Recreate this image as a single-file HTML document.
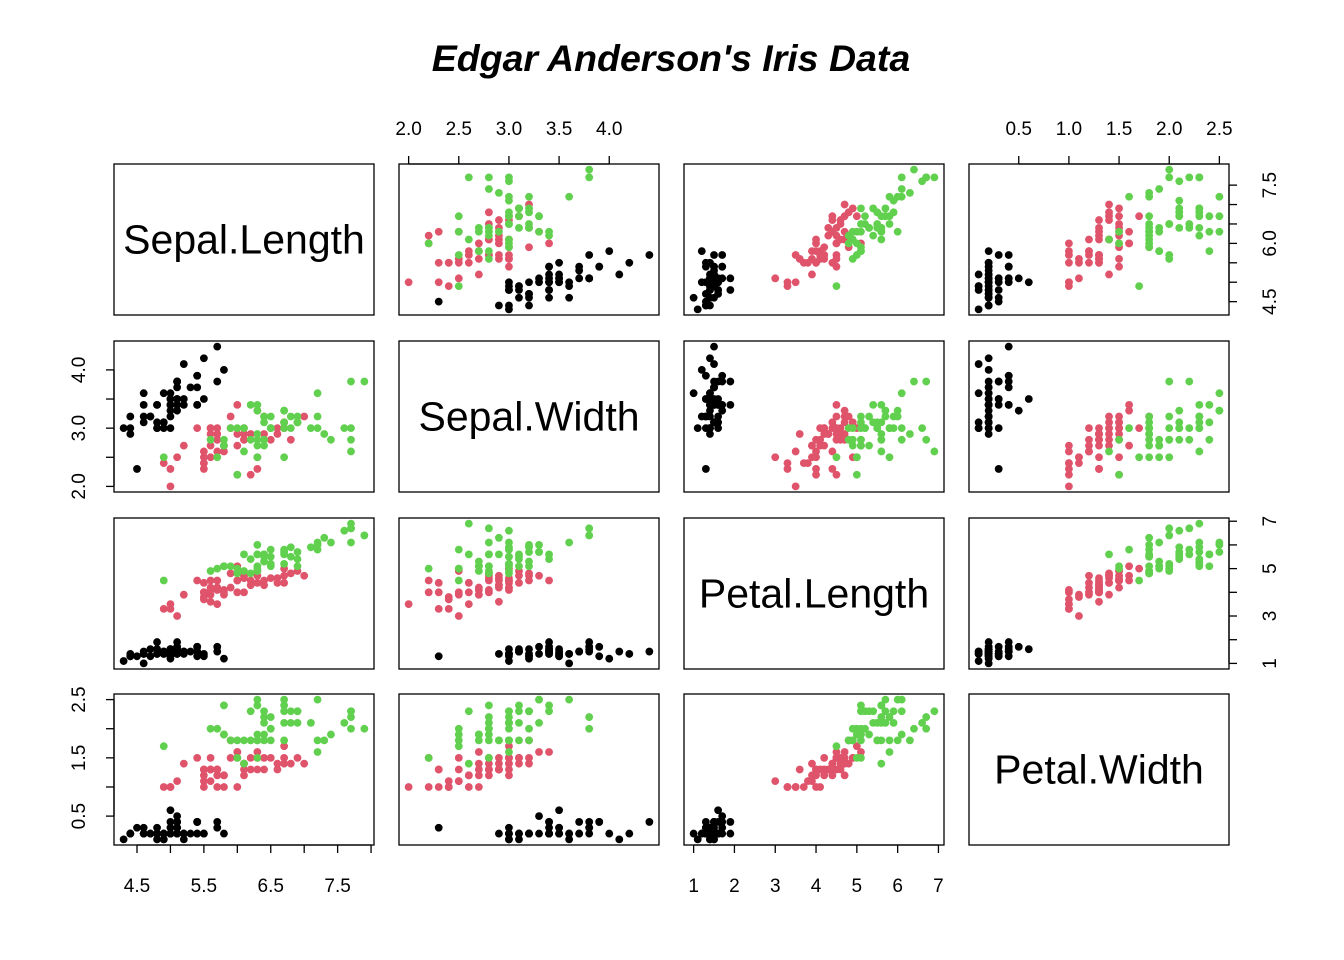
<!DOCTYPE html>
<html><head><meta charset="utf-8"><style>
html,body{margin:0;padding:0;background:#fff;}
svg{display:block;font-family:"Liberation Sans",Arial,sans-serif;}
</style></head><body>
<svg id="chart" width="1344" height="960" viewBox="0 0 1344 960">
<text x="671" y="71" text-anchor="middle" font-size="37.5" font-weight="bold" font-style="italic">Edgar Anderson's Iris Data</text>
</svg>
<script>
const varNames = ["Sepal.Length","Sepal.Width","Petal.Length","Petal.Width"];
const sepalLength = [5.1,4.9,4.7,4.6,5.0,5.4,4.6,5.0,4.4,4.9,5.4,4.8,4.8,4.3,5.8,5.7,5.4,5.1,5.7,5.1,5.4,5.1,4.6,5.1,4.8,5.0,5.0,5.2,5.2,4.7,4.8,5.4,5.2,5.5,4.9,5.0,5.5,4.9,4.4,5.1,5.0,4.5,4.4,5.0,5.1,4.8,5.1,4.6,5.3,5.0,
7.0,6.4,6.9,5.5,6.5,5.7,6.3,4.9,6.6,5.2,5.0,5.9,6.0,6.1,5.6,6.7,5.6,5.8,6.2,5.6,5.9,6.1,6.3,6.1,6.4,6.6,6.8,6.7,6.0,5.7,5.5,5.5,5.8,6.0,5.4,6.0,6.7,6.3,5.6,5.5,5.5,6.1,5.8,5.0,5.6,5.7,5.7,6.2,5.1,5.7,
6.3,5.8,7.1,6.3,6.5,7.6,4.9,7.3,6.7,7.2,6.5,6.4,6.8,5.7,5.8,6.4,6.5,7.7,7.7,6.0,6.9,5.6,7.7,6.3,6.7,7.2,6.2,6.1,6.4,7.2,7.4,7.9,6.4,6.3,6.1,7.7,6.3,6.4,6.0,6.9,6.7,6.9,5.8,6.8,6.7,6.7,6.3,6.5,6.2,5.9];
const sepalWidth = [3.5,3.0,3.2,3.1,3.6,3.9,3.4,3.4,2.9,3.1,3.7,3.4,3.0,3.0,4.0,4.4,3.9,3.5,3.8,3.8,3.4,3.7,3.6,3.3,3.4,3.0,3.4,3.5,3.4,3.2,3.1,3.4,4.1,4.2,3.1,3.2,3.5,3.6,3.0,3.4,3.5,2.3,3.2,3.5,3.8,3.0,3.8,3.2,3.7,3.3,
3.2,3.2,3.1,2.3,2.8,2.8,3.3,2.4,2.9,2.7,2.0,3.0,2.2,2.9,2.9,3.1,3.0,2.7,2.2,2.5,3.2,2.8,2.5,2.8,2.9,3.0,2.8,3.0,2.9,2.6,2.4,2.4,2.7,2.7,3.0,3.4,3.1,2.3,3.0,2.5,2.6,3.0,2.6,2.3,2.7,3.0,2.9,2.9,2.5,2.8,
3.3,2.7,3.0,2.9,3.0,3.0,2.5,2.9,2.5,3.6,3.2,2.7,3.0,2.5,2.8,3.2,3.0,3.8,2.6,2.2,3.2,2.8,2.8,2.7,3.3,3.2,2.8,3.0,2.8,3.0,2.8,3.8,2.8,2.8,2.6,3.0,3.4,3.1,3.0,3.1,3.1,3.1,2.7,3.2,3.3,3.0,2.5,3.0,3.4,3.0];
const petalLength = [1.4,1.4,1.3,1.5,1.4,1.7,1.4,1.5,1.4,1.5,1.5,1.6,1.4,1.1,1.2,1.5,1.3,1.4,1.7,1.5,1.7,1.5,1.0,1.7,1.9,1.6,1.6,1.5,1.4,1.6,1.6,1.5,1.5,1.4,1.5,1.2,1.3,1.4,1.3,1.5,1.3,1.3,1.3,1.6,1.9,1.4,1.6,1.4,1.5,1.4,
4.7,4.5,4.9,4.0,4.6,4.5,4.7,3.3,4.6,3.9,3.5,4.2,4.0,4.7,3.6,4.4,4.5,4.1,4.5,3.9,4.8,4.0,4.9,4.7,4.3,4.4,4.8,5.0,4.5,3.5,3.8,3.7,3.9,5.1,4.5,4.5,4.7,4.4,4.1,4.0,4.4,4.6,4.0,3.3,4.2,4.2,4.2,4.3,3.0,4.1,
6.0,5.1,5.9,5.6,5.8,6.6,4.5,6.3,5.8,6.1,5.1,5.3,5.5,5.0,5.1,5.3,5.5,6.7,6.9,5.0,5.7,4.9,6.7,4.9,5.7,6.0,4.8,4.9,5.6,5.8,6.1,6.4,5.6,5.1,5.6,6.1,5.6,5.5,4.8,5.4,5.6,5.1,5.1,5.9,5.7,5.2,5.0,5.2,5.4,5.1];
const petalWidth = [0.2,0.2,0.2,0.2,0.2,0.4,0.3,0.2,0.2,0.1,0.2,0.2,0.1,0.1,0.2,0.4,0.4,0.3,0.3,0.3,0.2,0.4,0.2,0.5,0.2,0.2,0.4,0.2,0.2,0.2,0.2,0.4,0.1,0.2,0.2,0.2,0.2,0.1,0.2,0.2,0.3,0.3,0.2,0.6,0.4,0.3,0.2,0.2,0.2,0.2,
1.4,1.5,1.5,1.3,1.5,1.3,1.6,1.0,1.3,1.4,1.0,1.5,1.0,1.4,1.3,1.4,1.5,1.0,1.5,1.1,1.8,1.3,1.5,1.2,1.3,1.4,1.4,1.7,1.5,1.0,1.1,1.0,1.2,1.6,1.5,1.6,1.5,1.3,1.3,1.3,1.2,1.4,1.2,1.0,1.3,1.2,1.3,1.3,1.1,1.3,
2.5,1.9,2.1,1.8,2.2,2.1,1.7,1.8,1.8,2.5,2.0,1.9,2.1,2.0,2.4,2.3,1.8,2.2,2.3,1.5,2.3,2.0,2.0,1.8,2.1,1.8,1.8,1.8,2.1,1.6,1.9,2.0,2.2,1.5,1.4,2.3,2.4,1.8,1.8,2.1,2.4,2.3,1.9,2.3,2.5,2.3,1.9,2.0,2.3,1.8];
const speciesColors = ["#000000","#DF536B","#61D04F"];
const speciesSize = 50;
const sepalLengthTicks = [4.5,5.0,5.5,6.0,6.5,7.0,7.5,8.0];
const sepalWidthTicks = [2.0,2.5,3.0,3.5,4.0];
const petalLengthTicks = [1,2,3,4,5,6,7];
const petalWidthTicks = [0.5,1.0,1.5,2.0,2.5];

const cols = [sepalLength,sepalWidth,petalLength,petalWidth];
const NS="http://www.w3.org/2000/svg";
const svg=document.getElementById('chart');
const colX=[114,399,684,969], rowY=[164,341,518,694], PW=260, PH=151;
function ext(a){const mn=Math.min(...a),mx=Math.max(...a),d=(mx-mn)*0.04;return [mn-d,mx+d];}
const ranges=cols.map(ext);
function sx(j,v){const r=ranges[j];return colX[j]+(v-r[0])/(r[1]-r[0])*PW;}
function sy(i,v){const r=ranges[i];return rowY[i]+PH-(v-r[0])/(r[1]-r[0])*PH;}
function mk(t,a){const e=document.createElementNS(NS,t);for(const k in a)e.setAttribute(k,a[k]);svg.appendChild(e);return e;}
for(let i=0;i<4;i++)for(let j=0;j<4;j++){
  const r=mk('rect',{x:colX[j],y:rowY[i],width:PW,height:PH,fill:'none',stroke:'#000','stroke-width':1.3});
  
  
  if(i===j){
    const t=mk('text',{x:colX[j]+PW/2,y:rowY[i]+PH/2+14,'text-anchor':'middle','font-size':41});
    t.textContent=varNames[i];
    
    
    continue;
  }
  for(let k=0;k<cols[0].length;k++){
    const c=mk('circle',{cx:sx(j,cols[j][k]),cy:sy(i,cols[i][k]),r:3.9,fill:speciesColors[Math.floor(k/speciesSize)]});
    
    
  }
}
function fmt(v,dec){return dec?v.toFixed(1):String(v);}
function axis(side,idx,ticks,labels,dec){
  const j=idx;
  ticks.forEach(v=>{
    let x1,y1,x2,y2,tx,ty,rot=0;
    if(side==='top'){x1=x2=sx(j,v);y1=rowY[0];y2=y1-8;tx=x1;ty=135;}
    else if(side==='bottom'){x1=x2=sx(j,v);y1=rowY[3]+PH;y2=y1+8;tx=x1;ty=892;}
    else if(side==='left'){y1=y2=sy(j,v);x1=colX[0];x2=x1-8;tx=85;ty=y1;rot=-90;}
    else {y1=y2=sy(j,v);x1=colX[3]+PW;x2=x1+8;tx=1276;ty=y1;rot=-90;}
    const l=mk('line',{x1,y1,x2,y2,stroke:'#000','stroke-width':1.3});
    
    
    if(labels.includes(v)){
      const t=mk('text',{x:tx,y:ty,'text-anchor':'middle','font-size':19});
      if(rot)t.setAttribute('transform','rotate(-90 '+tx+' '+ty+')');
      t.textContent=fmt(v,dec);
      
      
    }
  });
  const a=ticks[0],b=ticks[ticks.length-1];
  let ln;
  if(side==='top')ln={x1:sx(j,a),x2:sx(j,b),y1:rowY[0],y2:rowY[0]};
  else if(side==='bottom')ln={x1:sx(j,a),x2:sx(j,b),y1:rowY[3]+PH,y2:rowY[3]+PH};
  else if(side==='left')ln={y1:sy(j,a),y2:sy(j,b),x1:colX[0],x2:colX[0]};
  else ln={y1:sy(j,a),y2:sy(j,b),x1:colX[3]+PW,x2:colX[3]+PW};
  const l=mk('line',Object.assign(ln,{stroke:'#000','stroke-width':1.3}));
  
  
}
axis('top',1,sepalWidthTicks,sepalWidthTicks,true);
axis('top',3,petalWidthTicks,petalWidthTicks,true);
axis('bottom',0,sepalLengthTicks,[4.5,5.5,6.5,7.5],true);
axis('bottom',2,petalLengthTicks,petalLengthTicks,false);
axis('left',1,sepalWidthTicks,[2.0,3.0,4.0],true);
axis('left',3,petalWidthTicks,[0.5,1.5,2.5],true);
axis('right',0,sepalLengthTicks.slice(0,7),[4.5,6.0,7.5],true);
axis('right',2,petalLengthTicks,[1,3,5,7],false);
</script>
</body></html>
